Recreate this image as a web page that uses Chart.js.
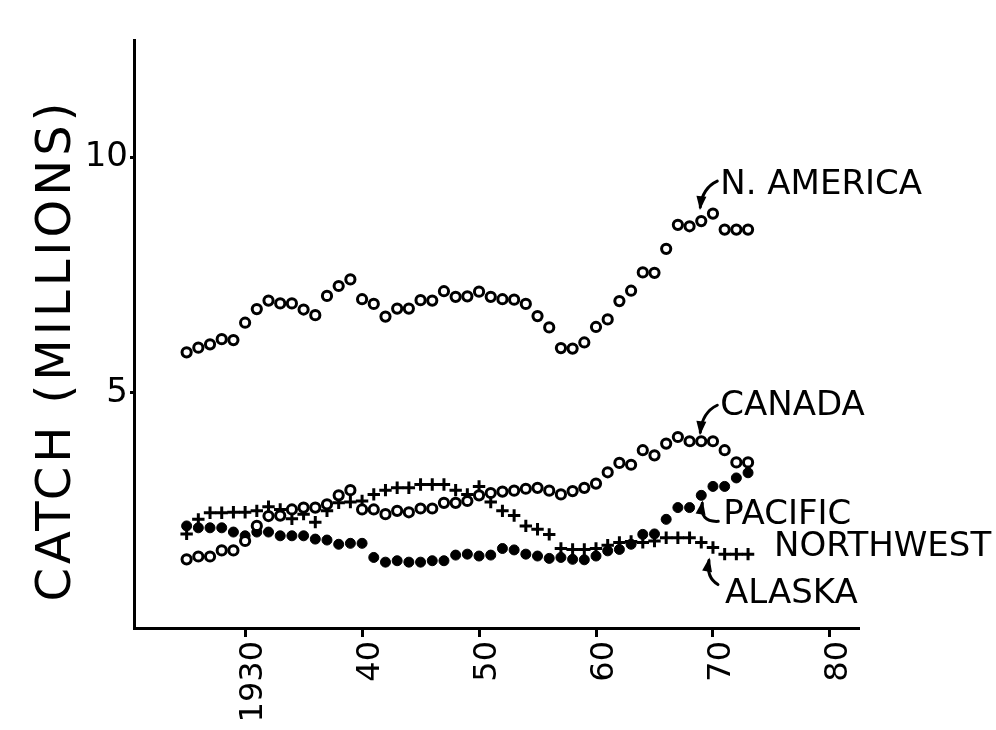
<!DOCTYPE html>
<html><head><meta charset="utf-8">
<script src="https://cdn.jsdelivr.net/npm/chart.js@4.4.1/dist/chart.umd.min.js"></script>
<style>html,body{margin:0;padding:0;background:#fff;overflow:hidden}</style>
</head><body>
<canvas id="c" width="996" height="730"></canvas>
<script>
const years = [1925,1926,1927,1928,1929,1930,1931,1932,1933,1934,1935,1936,1937,1938,1939,1940,1941,1942,1943,1944,1945,1946,1947,1948,1949,1950,1951,1952,1953,1954,1955,1956,1957,1958,1959,1960,1961,1962,1963,1964,1965,1966,1967,1968,1969,1970,1971,1972,1973];
const nAmerica = [5.86,5.96,6.03,6.14,6.12,6.49,6.78,6.96,6.90,6.90,6.77,6.65,7.06,7.27,7.41,6.99,6.89,6.62,6.79,6.79,6.97,6.96,7.16,7.04,7.05,7.15,7.04,6.99,6.98,6.89,6.63,6.39,5.95,5.94,6.07,6.40,6.56,6.95,7.17,7.56,7.55,8.06,8.57,8.54,8.65,8.81,8.47,8.47,8.47];
const canada = [1.46,1.52,1.52,1.65,1.65,1.85,2.17,2.38,2.39,2.52,2.56,2.56,2.63,2.82,2.93,2.52,2.52,2.42,2.49,2.46,2.54,2.54,2.66,2.66,2.70,2.82,2.87,2.90,2.92,2.96,2.98,2.92,2.84,2.91,2.98,3.07,3.31,3.51,3.47,3.78,3.67,3.92,4.06,3.97,3.97,3.97,3.78,3.52,3.52];
const pacificNorthwest = [2.17,2.13,2.13,2.13,2.04,1.96,2.04,2.04,1.96,1.96,1.96,1.89,1.87,1.78,1.80,1.80,1.50,1.40,1.43,1.40,1.40,1.43,1.43,1.55,1.57,1.53,1.55,1.69,1.66,1.57,1.53,1.48,1.50,1.46,1.45,1.53,1.64,1.67,1.78,1.99,2.00,2.31,2.56,2.56,2.82,3.01,3.01,3.19,3.30];
const alaska = [2.00,2.31,2.45,2.45,2.46,2.46,2.49,2.58,2.52,2.32,2.42,2.25,2.49,2.66,2.68,2.70,2.84,2.93,2.98,2.98,3.05,3.05,3.05,2.93,2.84,3.01,2.68,2.49,2.39,2.17,2.10,1.99,1.69,1.67,1.67,1.69,1.76,1.82,1.84,1.82,1.85,1.92,1.92,1.92,1.82,1.71,1.57,1.57,1.57];
const xTickValues = [1930,1940,1950,1960,1970,1980];
const xTickLabels = ['1930','40','50','60','70','80'];
const yTickValues = [5,10];
const yTickLabels = ['5','10'];
const yTitle = 'CATCH (MILLIONS)';

// series labels, anchored to a data point (dataset index, year); offsets in px
const seriesLabels = [
  {text:'N. AMERICA', ds:0, year:1969, tx:19, ty:-36, arrow:{s:[16,-40], c:[1,-33], t:[-1,-14]}},
  {text:'CANADA', ds:1, year:1969, tx:19, ty:-35, arrow:{s:[16,-36], c:[1,-29], t:[-1,-9]}},
  {text:'PACIFIC', ds:2, year:1969, tx:22, ty:20, arrow:{s:[17,26], c:[-2,27], t:[1,8]}},
  {text:'NORTHWEST', ds:3, year:1973, tx:26, ty:-7, arrow:null},
  {text:'ALASKA', ds:3, year:1970, tx:12, ty:47, arrow:{s:[5,37], c:[-7,30], t:[-4,13]}}
];

const pts = arr => years.map((y,i)=>({x:y, y:arr[i]}));
const FONT = "'DejaVu Sans', sans-serif";

const bgPlugin = {
  id:'bg',
  beforeDraw(chart){ const c=chart.ctx; c.save(); c.fillStyle='#fff'; c.fillRect(0,0,chart.width,chart.height); c.restore(); }
};

const labelPlugin = {
  id:'seriesLabels',
  afterDraw(chart){
    const c = chart.ctx, xs = chart.scales.x, ys = chart.scales.y;
    const arrays = [nAmerica, canada, pacificNorthwest, alaska];
    c.save();
    c.fillStyle='#000'; c.strokeStyle='#000';
    // y axis title
    c.save();
    c.font = "48px " + FONT;
    if ('letterSpacing' in c) c.letterSpacing = '4px';
    c.textAlign='center'; c.textBaseline='middle';
    c.translate(58, (ys.top+ys.bottom)/2 + 16);
    c.rotate(-Math.PI/2);
    c.fillText(yTitle, 0, 0);
    c.restore();

    c.font = "34px " + FONT;
    c.textAlign='left'; c.textBaseline='middle';
    seriesLabels.forEach(l=>{
      const i = years.indexOf(l.year);
      const px = xs.getPixelForValue(l.year), py = ys.getPixelForValue(arrays[l.ds][i]);
      c.fillText(l.text, px+l.tx, py+l.ty);
      if(l.arrow){
        const s=l.arrow.s, k=l.arrow.c, t=l.arrow.t;
        const sx=px+s[0], sy=py+s[1], cx=px+k[0], cy=py+k[1], ex=px+t[0], ey=py+t[1];
        c.lineWidth=3; c.lineCap='round';
        c.beginPath(); c.moveTo(sx,sy); c.quadraticCurveTo(cx,cy,ex,ey); c.stroke();
        const ang = Math.atan2(ey-cy, ex-cx);
        const L=11, W=5;
        c.beginPath();
        c.moveTo(ex+Math.cos(ang)*3, ey+Math.sin(ang)*3);
        c.lineTo(ex-Math.cos(ang)*L+Math.sin(ang)*W, ey-Math.sin(ang)*L-Math.cos(ang)*W);
        c.lineTo(ex-Math.cos(ang)*L-Math.sin(ang)*W, ey-Math.sin(ang)*L+Math.cos(ang)*W);
        c.closePath(); c.fill();
      }
    });
    c.restore();
  }
};

new Chart(document.getElementById('c'), {
  type:'scatter',
  data:{datasets:[
    {label:'N. America', data:pts(nAmerica), pointStyle:'circle', pointRadius:4.6, borderWidth:3, borderColor:'#000', backgroundColor:'#fff'},
    {label:'Canada', data:pts(canada), pointStyle:'circle', pointRadius:4.6, borderWidth:3, borderColor:'#000', backgroundColor:'#fff'},
    {label:'Pacific Northwest', data:pts(pacificNorthwest), pointStyle:'circle', pointRadius:5, borderWidth:1, borderColor:'#000', backgroundColor:'#000'},
    {label:'Alaska', data:pts(alaska), pointStyle:'cross', pointRadius:6.2, borderWidth:3, borderColor:'#000', backgroundColor:'#000'}
  ]},
  options:{
    responsive:false, animation:false, devicePixelRatio:1,
    layout:{padding:{top:40, right:138, left:0, bottom:0}},
    plugins:{legend:{display:false}, tooltip:{enabled:false}},
    scales:{
      x:{type:'linear', min:1920.5, max:1982.4,
        afterBuildTicks:s=>{ s.ticks = xTickValues.map(v=>({value:v})); },
        afterFit:s=>{ s.height = 102; },
        ticks:{autoSkip:false, minRotation:90, maxRotation:90, padding:4, labelOffset:9, color:'#000',
          font:{family:FONT, size:32},
          callback:(v)=>xTickLabels[xTickValues.indexOf(v)]},
        grid:{display:true, drawOnChartArea:false, drawTicks:true, tickLength:9, color:'#000', lineWidth:3},
        border:{display:true, color:'#000', width:3}
      },
      y:{type:'linear', min:0, max:12.5,
        afterBuildTicks:s=>{ s.ticks = yTickValues.map(v=>({value:v})); },
        afterFit:s=>{ s.width = 134; },
        ticks:{padding:2, color:'#000', font:{family:FONT, size:34},
          callback:(v)=>yTickLabels[yTickValues.indexOf(v)]},
        grid:{display:true, drawOnChartArea:false, drawTicks:true, tickLength:4, color:'#000', lineWidth:3},
        border:{display:true, color:'#000', width:3},
        title:{display:false, text:yTitle}
      }
    }
  },
  plugins:[bgPlugin, labelPlugin]
});
</script>
</body></html>
